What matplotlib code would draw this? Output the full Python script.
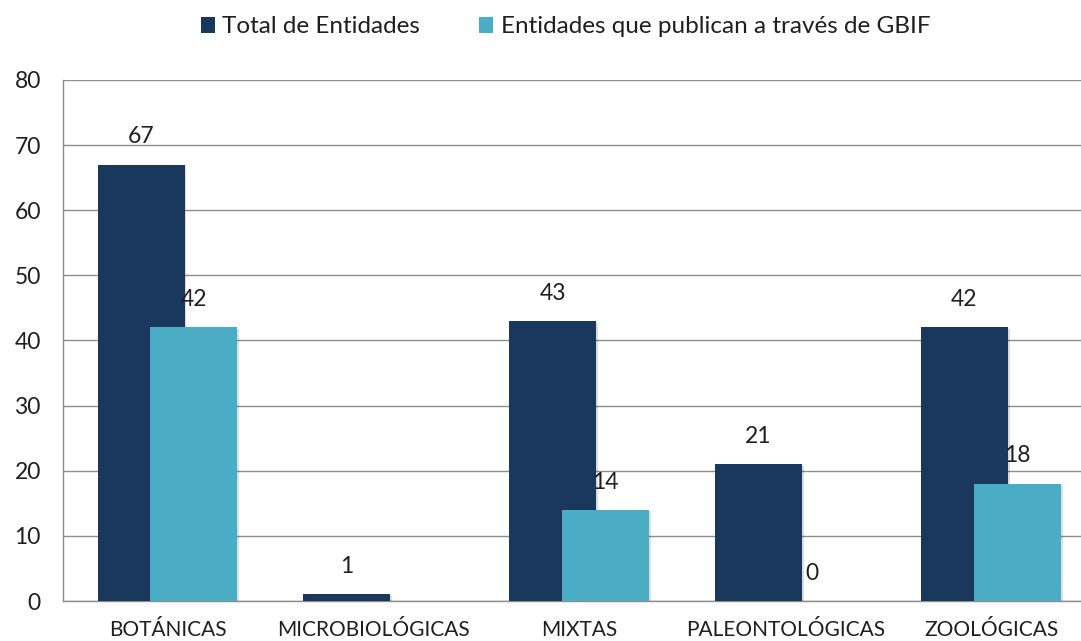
import matplotlib
matplotlib.use('agg')
import matplotlib.pyplot as plt
import matplotlib.patheffects as pe
import numpy as np

categories = ['BOTÁNICAS', 'MICROBIOLÓGICAS', 'MIXTAS', 'PALEONTOLÓGICAS', 'ZOOLÓGICAS']
total = [67, 1, 43, 21, 42]
gbif = [42, None, 14, 0, 18]
series_names = ['Total de Entidades', 'Entidades que publican a través de GBIF']
yticks = [0, 10, 20, 30, 40, 50, 60, 70, 80]

dark = '#1a375d'
teal = '#4aacc5'
grid = '#8c8c8c'
txt = '#1f1f1f'

plt.rcParams['font.family'] = ['Lato', 'DejaVu Sans']
fs = 16.5

fig = plt.figure(figsize=(10.81, 6.41), dpi=100)
ax = fig.add_axes([0.0583, 0.0624, 0.954, 0.8128])

x = np.arange(len(categories))
w = 0.423
shadow = [pe.SimplePatchShadow(offset=(1.2, -1.2), alpha=0.15), pe.Normal()]

gv = [v if v is not None else 0 for v in gbif]
b1 = ax.bar(x - 0.131, total, w, color=dark, zorder=3, label=series_names[0])
b2 = ax.bar(x + 0.126, gv, w, color=teal, zorder=4, label=series_names[1])
for p in list(b1) + list(b2):
    p.set_path_effects(shadow)

# value labels
for i, v in enumerate(total):
    ax.annotate(str(v), (x[i] - 0.131, v), xytext=(0, 20), textcoords='offset points',
                ha='center', va='center', fontsize=fs, color=txt)
for i, v in enumerate(gbif):
    if v is None:
        continue
    ax.annotate(str(v), (x[i] + 0.126, v), xytext=(0, 20), textcoords='offset points',
                ha='center', va='center', fontsize=fs, color=txt)

ax.set_ylim(0, 80)
ax.set_xlim(-0.51, 4.5)
ax.set_yticks(yticks)
ax.set_xticks(x)
ax.set_xticklabels(categories)
ax.yaxis.grid(True, color=grid, lw=1)
ax.set_axisbelow(True)
ax.tick_params(axis='y', length=0, pad=16, labelsize=fs, labelcolor=txt)
ax.tick_params(axis='x', length=0, pad=14, labelsize=15, labelcolor=txt)
for s in ['top', 'right']:
    ax.spines[s].set_visible(False)
for s in ['left', 'bottom']:
    ax.spines[s].set_color(grid)
    ax.spines[s].set_linewidth(1)

leg = fig.legend(handles=[b1, b2], labels=series_names, loc='center',
                 bbox_to_anchor=(0.523, 0.958), ncol=2, frameon=False,
                 fontsize=17.5, handlelength=0.6, handleheight=0.6,
                 handletextpad=0.3, columnspacing=2.4)
for t in leg.get_texts():
    t.set_color(txt)
for h in leg.legend_handles:
    h.set_path_effects([])

fig.savefig('out.png', dpi=100)
